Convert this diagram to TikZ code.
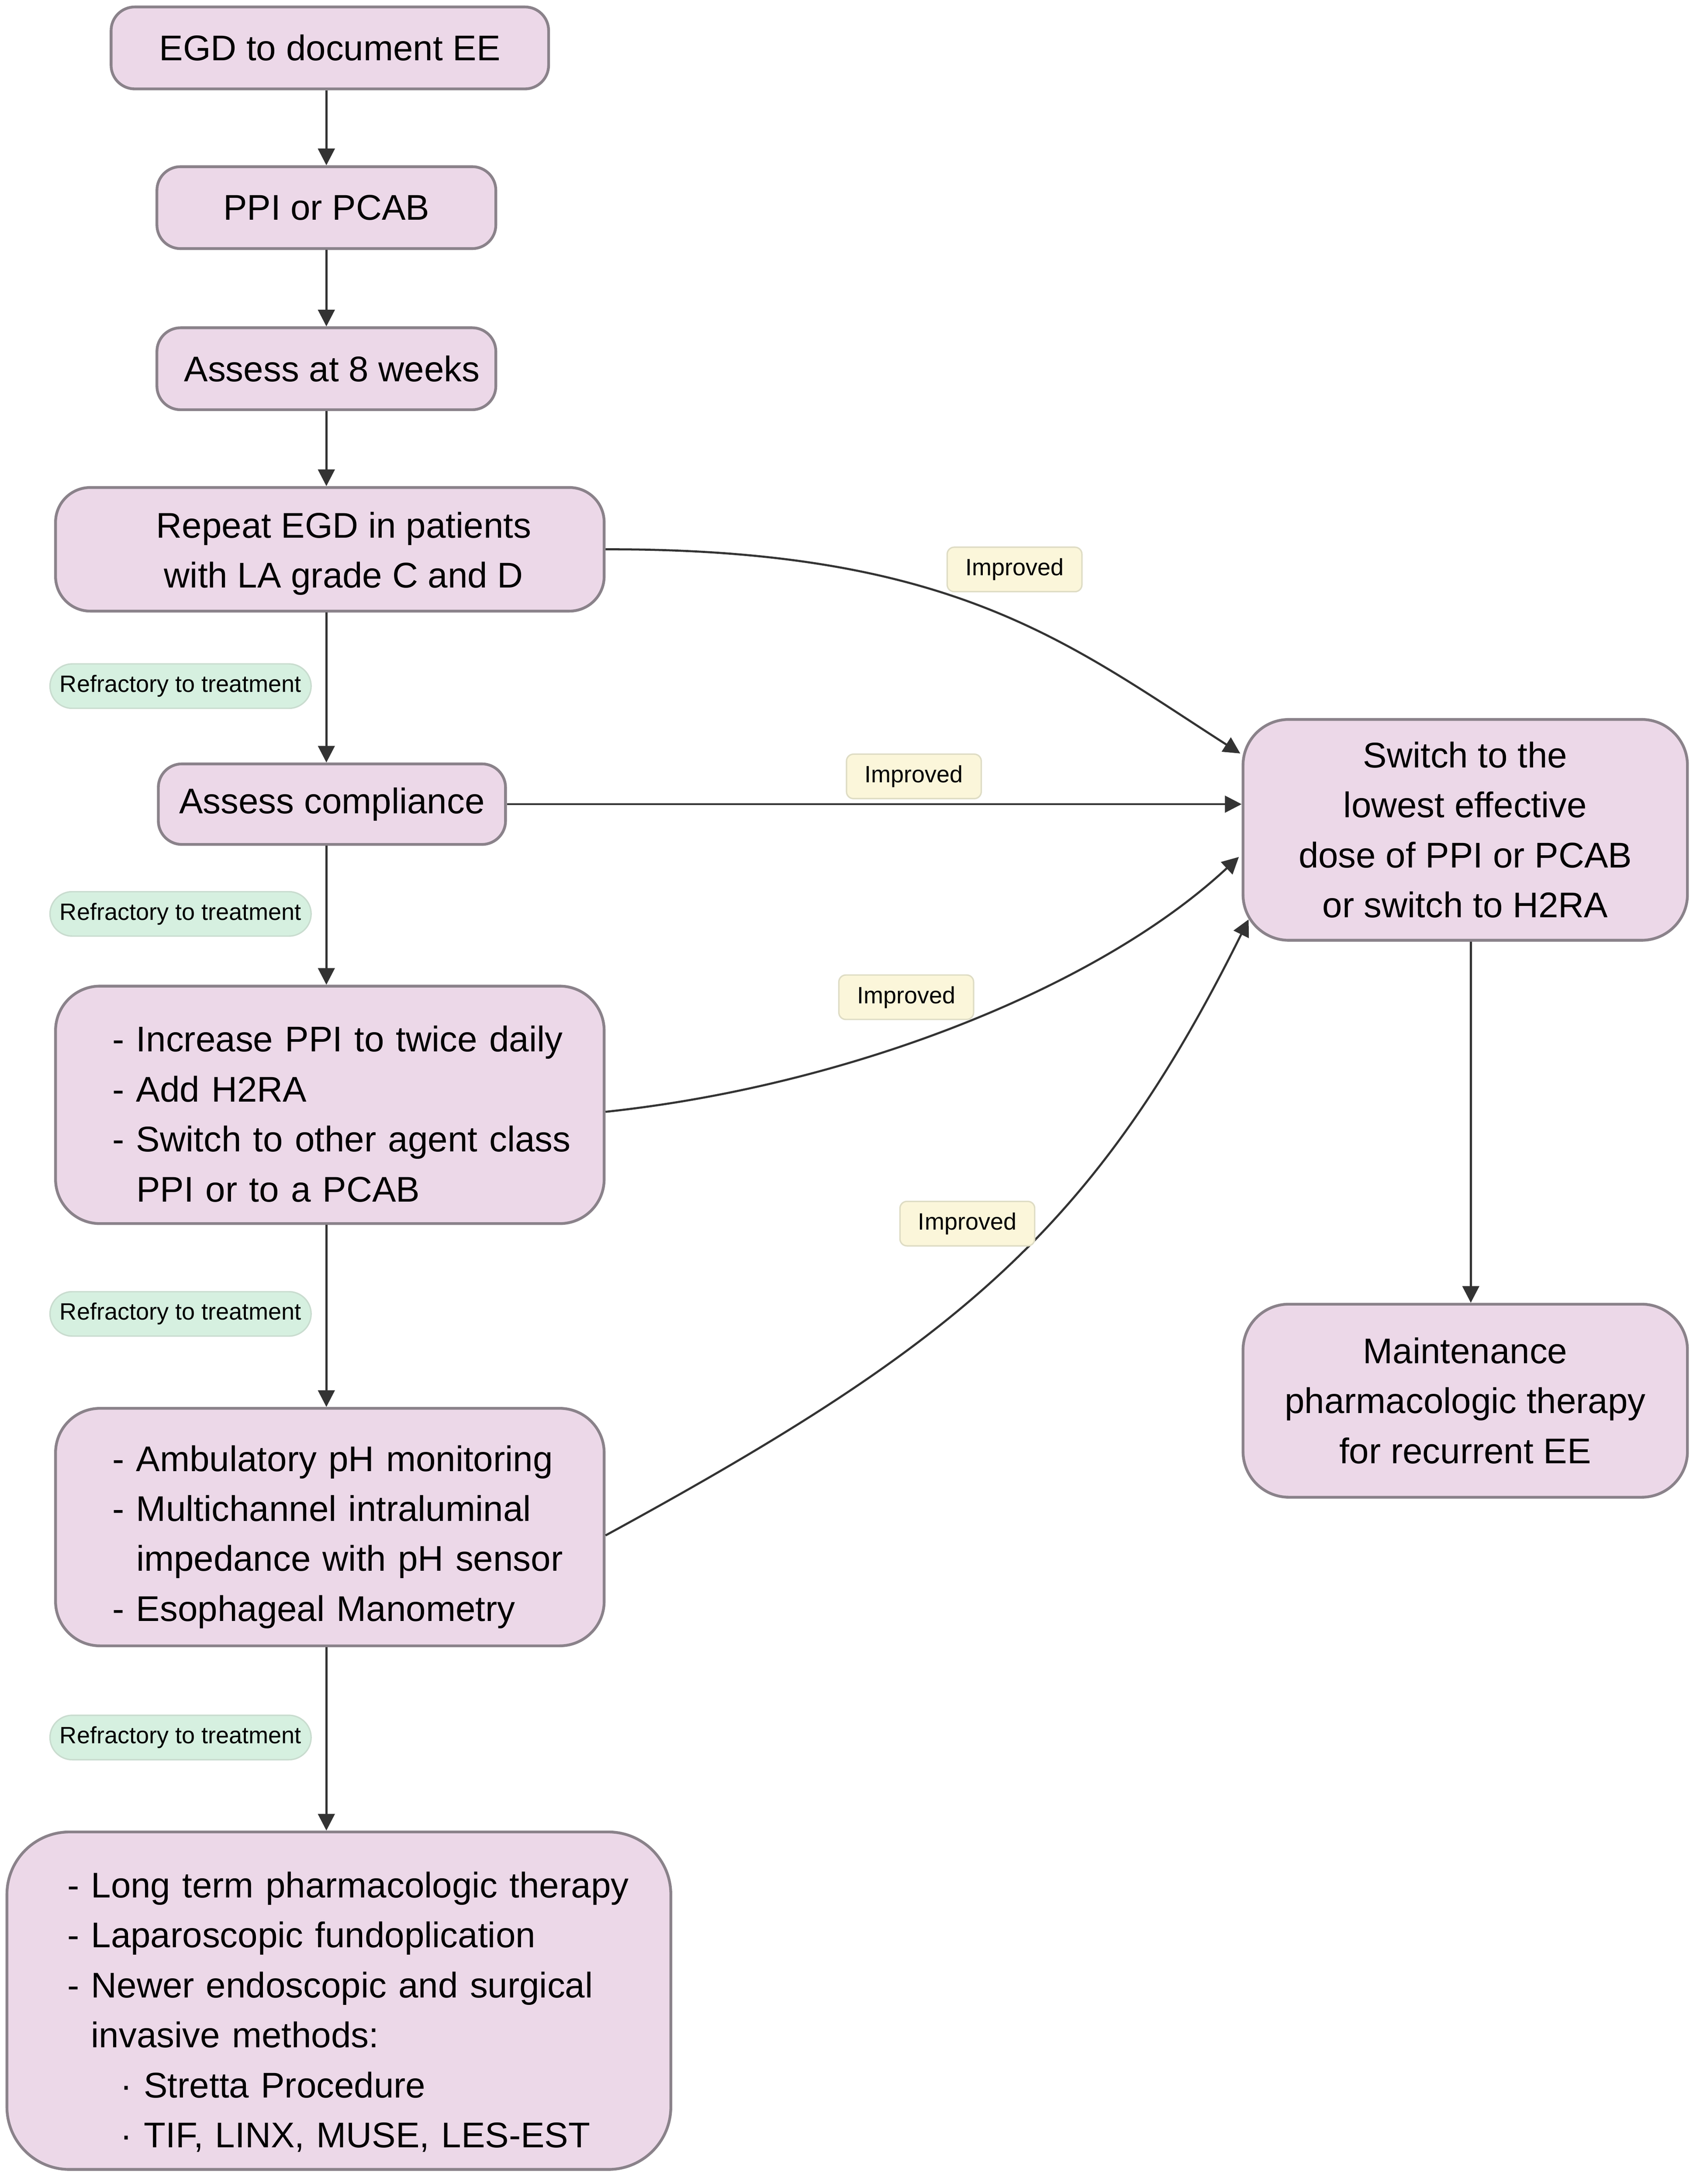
\documentclass[tikz,border=0pt]{standalone}
\usepackage{fontspec}
\setmainfont{Liberation Sans}
\usetikzlibrary{arrows.meta,calc}
\definecolor{boxfill}{HTML}{ECD8E8}
\definecolor{boxline}{HTML}{8A828A}
\definecolor{edgec}{HTML}{333333}
\definecolor{greenfill}{HTML}{D6F0E0}
\definecolor{greenline}{HTML}{C9DCCF}
\definecolor{yellowfill}{HTML}{FBF6DA}
\definecolor{yellowline}{HTML}{DEDCC4}
\begin{document}
\begin{tikzpicture}[x=1pt,y=-1pt,
  box/.style n args={3}{draw=boxline,fill=boxfill,line width=2pt,inner sep=0pt,
    font=\fontsize{25.7}{36}\selectfont,align=center,
    minimum width=#1,minimum height=#2,rounded corners=#3},
  listbox/.style n args={3}{box={#1}{#2}{#3},text width=#1,align=left},
  refr/.style={draw=greenline,fill=greenfill,line width=1pt,rounded corners=16pt,
    minimum width=188pt,minimum height=32pt,inner sep=0pt,font=\fontsize{17}{20}\selectfont},
  impr/.style={draw=yellowline,fill=yellowfill,line width=1pt,rounded corners=5pt,
    minimum width=97pt,minimum height=32pt,inner sep=0pt,font=\fontsize{17}{20}\selectfont},
  conn/.style={draw=edgec,line width=1.5pt,-{Triangle[length=12pt,width=12pt]}}
]
\useasboundingbox[fill=white] (0,0) rectangle (1224,1572.5);

% main nodes
\node[box={315pt}{59pt}{17pt}] (egd) at (237.5,34.5) {EGD to document EE};
\node[box={244pt}{59pt}{17pt}] (ppi) at (235,149.5) {PPI or PCAB};
\node[box={244pt}{59pt}{17pt}] (ass8) at (235,265.5) {\hspace*{8pt}Assess at 8 weeks};
\node[box={395pt}{89pt}{25pt}] (rep) at (237.5,395.5) {\rule{0pt}{24.8pt}\hspace*{20pt}Repeat EGD in patients\\\hspace*{20pt}with LA grade C and D};
\node[box={250pt}{58pt}{17pt}] (comp) at (239,579) {Assess compliance};
\node[listbox={395pt}{171pt}{32pt}] (incr) at (237.5,795.5) {%
\rule{0pt}{31.8pt}\hspace*{41pt}- Increase PPI to twice daily\\
\hspace*{41pt}- Add H2RA\\
\hspace*{41pt}- Switch to other agent class\\
\hspace*{41pt}\phantom{- }PPI or to a PCAB};
\node[listbox={395pt}{171pt}{32pt}] (amb) at (237.5,1099.5) {%
\rule{0pt}{32.8pt}\hspace*{41pt}- Ambulatory pH monitoring\\
\hspace*{41pt}- Multichannel intraluminal\\
\hspace*{41pt}\phantom{- }impedance with pH sensor\\
\hspace*{41pt}- Esophageal Manometry};
\node[listbox={478pt}{243pt}{45pt}] (long) at (244,1440.5) {%
\rule{0pt}{34.8pt}\hspace*{43.5pt}- Long term pharmacologic therapy\\
\hspace*{43.5pt}- Laparoscopic fundoplication\\
\hspace*{43.5pt}- Newer endoscopic and surgical\\
\hspace*{43.5pt}\phantom{- }invasive methods:\\
\hspace*{81.5pt}· Stretta Procedure\\
\hspace*{81.5pt}· TIF, LINX, MUSE, LES-EST};
\node[box={320pt}{159pt}{33pt}] (sw) at (1055,597.5) {Switch to the\\lowest effective\\dose of PPI or PCAB\\or switch to H2RA};
\node[box={320pt}{139pt}{33pt}] (mt) at (1055,1008.5) {Maintenance\\pharmacologic therapy\\for recurrent EE};

\coordinate (cx) at (235,0);

% vertical chain
\draw[conn] (egd.south -| cx) -- (ppi.north -| cx);
\draw[conn] (ppi.south -| cx) -- (ass8.north -| cx);
\draw[conn] (ass8.south -| cx) -- (rep.north -| cx);
\draw[conn] (rep.south -| cx) -- (comp.north -| cx);
\draw[conn] (comp.south -| cx) -- (incr.north -| cx);
\draw[conn] (incr.south -| cx) -- (amb.north -| cx);
\draw[conn] (amb.south -| cx) -- (long.north -| cx);
\draw[conn] ([xshift=4pt]sw.south) -- ([xshift=4pt]mt.north);

% improved edges
\draw[conn] (rep.east) .. controls (687,395) and (769,463) .. ($(sw.west)+(-1,-55)$);
\draw[conn] (comp.east) -- (comp.east -| sw.west);
\draw[conn] ($(incr.east)+(0,5)$) .. controls (610,782) and (790,712) .. ($(sw.west)+(-2,19.5)$);
\draw[conn] ($(amb.east)+(0,6)$) .. controls (687,968.5) and (787.5,887) .. ($(sw.west)+(5,64.5)$);

% labels
\node[refr] (r1) at (130,494) {Refractory to treatment};
\node[refr] (r2) at (130,658) {Refractory to treatment};
\node[refr] (r3) at (130,946) {Refractory to treatment};
\node[refr] (r4) at (130,1251) {Refractory to treatment};
\node[impr] (i1) at (730.5,410) {Improved};
\node[impr] (i2) at (658,559) {Improved};
\node[impr] (i3) at (652.5,718) {Improved};
\node[impr] (i4) at (696.5,881) {Improved};
\end{tikzpicture}
\end{document}
